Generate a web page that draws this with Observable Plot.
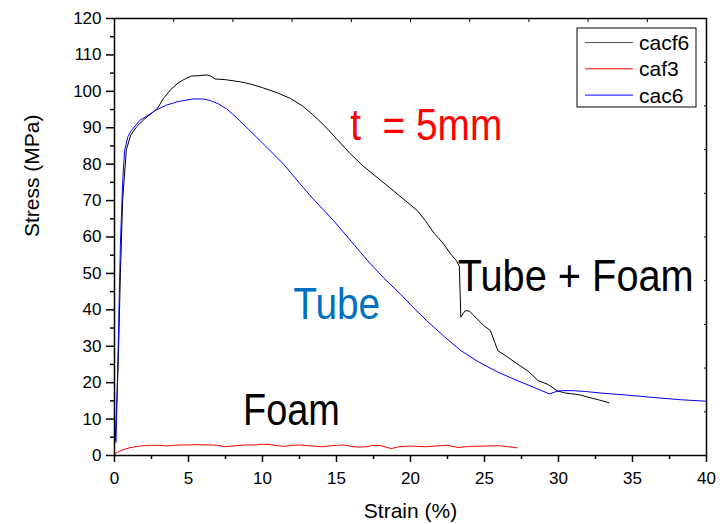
<!DOCTYPE html>
<html><head><meta charset="utf-8">
<script src="https://cdn.jsdelivr.net/npm/d3@7"></script>
<script src="https://cdn.jsdelivr.net/npm/@observablehq/plot@0.6"></script>
<style>body{margin:0;background:#fff}</style>
</head><body><div id="chart"></div>
<script>
const seriesNames = ["cacf6", "caf3", "cac6"];
const seriesColors = ["#000000", "#ff0000", "#0000ff"];
const legendSwatch = ["#555555", "#ff0000", "#0000ff"];

const cacf6Strain = [0.05,0.25,0.4,0.55,0.8,1.1,1.5,2.0,2.9,3.3,3.8,4.3,4.8,5.2,5.7,6.2,6.5,6.8,7.5,8.5,9.2,10.0,11.0,11.9,12.7,13.4,14.2,15.0,15.9,16.8,18.0,19.2,20.45,21.0,21.6,22.2,22.7,23.1,23.3,23.35,23.4,23.7,24.0,24.5,25.0,25.4,25.7,25.9,26.5,27.2,28.0,28.6,29.3,29.9,30.4,30.8,31.5,32.0,32.7,33.4];
const cacf6Stress = [4,25,50,70,84,88,90.3,92.3,95.3,98,100.5,102.3,103.5,104.2,104.3,104.5,104.2,103.4,103.2,102.6,102,101,99.6,98,96,93.6,90.5,87,83,79.5,75.5,71.5,67.3,64.5,61,58.3,55.4,53.5,52,45,38,39.8,39.6,37.5,35.5,34.3,31,28.8,27.2,25.2,23,20.6,19.5,17.8,17.2,17,16.6,16,15.3,14.5];

const caf3Strain = [0,0.5,1,1.5,2,2.5,3,3.5,4,4.5,5,5.5,6,6.5,7,7.4,8,8.5,9,9.5,10,10.5,11,11.5,12,12.5,13,13.5,14,14.5,15,15.5,16,16.5,17,17.5,18,18.7,19.2,20,21,22,22.5,23.2,24,25,26,27.2];
const caf3Stress = [0.5,1.5,2.1,2.5,2.7,2.8,2.8,2.6,2.8,2.9,2.9,3.0,2.9,2.9,2.8,2.4,2.6,2.8,2.9,2.9,3.1,3.0,2.7,2.5,2.8,2.9,2.7,2.6,2.4,2.6,2.8,2.9,2.5,2.3,2.4,2.8,2.7,1.9,2.4,2.6,2.4,2.7,2.8,2.2,2.5,2.6,2.7,2.1];

const cac6Strain = [0.1,0.25,0.4,0.55,0.68,0.9,1.13,1.7,2.3,2.83,3.5,4.3,5.3,6.0,6.44,7.0,7.57,8.3,9.15,10.2,11.4,12.5,13.3,14.8,16.0,17.1,18.2,19.3,20.2,21.1,22.3,23.4,24.6,25.9,27.2,28.4,29.4,29.8,30.2,31.0,31.75,33.0,34.9,36.5,38.3,40];
const cac6Stress = [3.6,30,58,75,83.7,87.5,89.2,92,93.5,94.9,96.2,97.2,97.9,97.9,97.5,96.6,95.2,92.6,89.2,85,80.1,74.8,71,64.5,58.8,53.5,48.7,44.4,40.6,37,32.6,28.8,25.7,22.9,20.6,18.6,16.9,17.5,17.8,17.8,17.6,17.1,16.5,15.9,15.3,14.9];

const xTicks = [0,5,10,15,20,25,30,35,40];
const xMinor = [2.5,7.5,12.5,17.5,22.5,27.5,32.5,37.5];
const yTicks = [0,10,20,30,40,50,60,70,80,90,100,110,120];
const yMinor = [5,15,25,35,45,55,65,75,85,95,105,115];
const topTicks = [0,4,8,12,16,20,24,28,32,36,40];
const rightTicks = [0,12,24,36,48,60,72,84,96,108,120];

const annotationText = ["t  = 5mm", "Tube + Foam", "Tube", "Foam"];
const annotationX = [15.93, 23.19, 12.07, 8.68];
const annotationY = [86.5, 45.3, 37.6, 8.24];
const annotationColor = ["#ff0000", "#000000", "#0070c0", "#000000"];
const annotationWidth = [152, 236, 87, 97];

const rows = [];
[[cacf6Strain, cacf6Stress], [caf3Strain, caf3Stress], [cac6Strain, cac6Stress]].forEach(([xs, ys], i) => {
  xs.forEach((x, j) => rows.push({series: seriesNames[i], strain: x, stress: ys[j]}));
});

const font = "'Liberation Sans', Arial, sans-serif";

const plot = Plot.plot({
  width: 726, height: 524,
  marginLeft: 114, marginRight: 20, marginTop: 18, marginBottom: 69,
  x: {domain: [0, 40]},
  y: {domain: [0, 120]},
  color: {domain: seriesNames, range: seriesColors},
  style: {fontFamily: font, fontSize: "17px", color: "#000", background: "#fff"},
  marks: [
    Plot.line(rows, {x: "strain", y: "stress", z: "series", stroke: "series", strokeWidth: 1, curve: "linear"}),
    ...annotationText.map((t, i) => Plot.text([t], {x: () => annotationX[i], y: () => annotationY[i], text: d => d, fill: annotationColor[i], fontSize: 45, fontFamily: font, textAnchor: "start", lineAnchor: "bottom"})),
    Plot.frame({stroke: "#000", strokeWidth: 1.5}),
    Plot.axisX({ticks: xTicks, tickSize: 7, tickPadding: 9, strokeWidth: 1.5, label: null}),
    Plot.axisX({ticks: xMinor, tickSize: 4, strokeWidth: 1.5, fill: "none", label: null}),
    Plot.axisY({ticks: yTicks, tickSize: 8, tickPadding: 5, strokeWidth: 1.5, label: null}),
    Plot.axisY({ticks: yMinor, tickSize: 4, strokeWidth: 1.5, fill: "none", label: null}),
    Plot.axisX({anchor: "top", ticks: topTicks, tickSize: -3, strokeWidth: 1, fill: "none", label: null}),
    Plot.axisY({anchor: "right", ticks: rightTicks, tickSize: -3, strokeWidth: 1, fill: "none", label: null}),
    Plot.text(["Strain (%)"], {frameAnchor: "bottom", dy: 62, lineAnchor: "bottom", fontSize: 21, text: d => d}),
    Plot.text(["Stress (MPa)"], {frameAnchor: "left", rotate: -90, dx: -76, lineAnchor: "bottom", fontSize: 21, text: d => d})
  ]
});

const svg = d3.select(plot);
// tick label size
svg.selectAll("g[aria-label='x-axis tick label'], g[aria-label='y-axis tick label']")
  .attr("font-size", 17).selectAll("text").attr("font-size", 17);
// condensed annotation text (Arial Narrow look)
svg.selectAll("text").each(function() {
  const i = annotationText.indexOf(this.textContent);
  if (i >= 0) d3.select(this).attr("textLength", annotationWidth[i]).attr("lengthAdjust", "spacingAndGlyphs");
});

const lg = svg.append("g").attr("text-anchor", "start").attr("font-family", font);
lg.append("rect").attr("x", 577).attr("y", 28).attr("width", 119).attr("height", 79)
  .attr("fill", "#fff").attr("stroke", "#000").attr("stroke-width", 1);
seriesNames.forEach((n, i) => {
  const cy = 42.5 + i * 26.3;
  lg.append("line").attr("x1", 585).attr("x2", 633).attr("y1", cy).attr("y2", cy)
    .attr("stroke", legendSwatch[i]).attr("stroke-width", 1);
  lg.append("text").attr("x", 639).attr("y", cy + 7.5).attr("font-size", 21).attr("fill", "#000").text(n);
});

document.getElementById("chart").appendChild(plot);
</script>
</body></html>
